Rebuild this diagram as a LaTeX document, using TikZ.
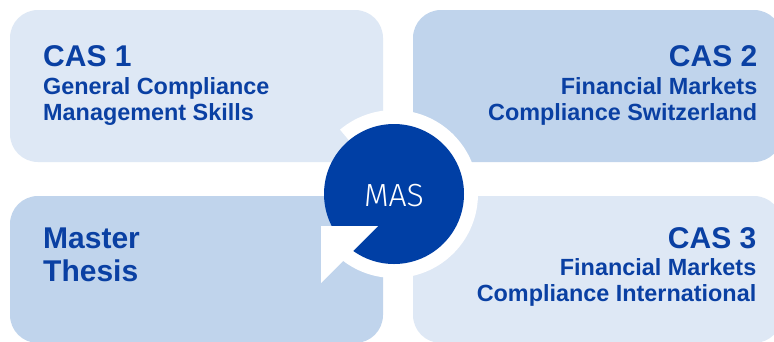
\documentclass[tikz,border=0pt]{standalone}
\usepackage{fontspec}
\setmainfont{Liberation Sans}
\newfontfamily\lightfont{Fira Sans Light}
\usetikzlibrary{calc}
\definecolor{boxlight}{HTML}{DEE8F5}
\definecolor{boxmid}{HTML}{C0D4EC}
\definecolor{navy}{HTML}{003FA5}
\definecolor{txtblue}{HTML}{0A40A3}
\begin{document}
\begin{tikzpicture}[x=1pt,y=-1pt,
  panel/.style={rounded corners=28pt},
  title/.style={font=\bfseries\fontsize{30}{30}\selectfont, text=txtblue, inner sep=0pt},
  sub/.style={font=\bfseries\fontsize{23.4}{23.4}\selectfont, text=txtblue, inner sep=0pt}]
\useasboundingbox (0,0) rectangle (774,341);
\clip (0,0) rectangle (774,341);
\fill[white] (0,0) rectangle (774,341);
% panels
\fill[boxlight, panel] (10,10) rectangle (383,162);
\fill[boxmid, panel] (413,10) rectangle (782,162);
\fill[boxmid, panel] (10,196) rectangle (383,343);
\fill[boxlight, panel] (413,196) rectangle (782,343);
% circular arrow
\coordinate (c) at (394,194);
\fill[white] (c) -- ($(c)+(-130:84)$) arc[start angle=-130, end angle=130, radius=84] -- cycle;
\fill[navy] (c) circle[radius=70];
\fill[white] (321,226) -- (378,226) -- (321,283) -- cycle;
\node[font=\lightfont\fontsize{32}{32}\selectfont, text=white, anchor=base, inner sep=0pt] (mas) at (394,206) {MAS};
% texts
\node[title, anchor=base west] (t1) at (43,66.7) {CAS 1};
\node[sub, anchor=base west] (s1a) at (43,94.3) {General Compliance};
\node[sub, anchor=base west] (s1b) at (43,120) {Management Skills};
\node[title, anchor=base east] (t2) at (757.5,66.7) {CAS 2};
\node[sub, anchor=base east] (s2a) at (757.5,94.3) {Financial Markets};
\node[sub, anchor=base east] (s2b) at (757.5,120) {Compliance Switzerland};
\node[title, anchor=base west] (t4) at (43,248) {Master};
\node[title, anchor=base west] (t4b) at (43,281) {Thesis};
\node[title, anchor=base east] (t3) at (756.5,248.3) {CAS 3};
\node[sub, anchor=base east] (s3a) at (756.5,275) {Financial Markets};
\node[sub, anchor=base east] (s3b) at (756.5,301.7) {Compliance International};
\end{tikzpicture}
\end{document}
